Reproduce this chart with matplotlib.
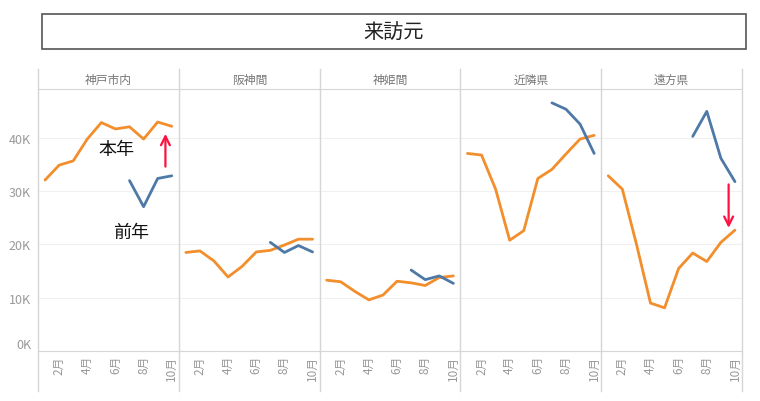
import matplotlib.pyplot as plt
from matplotlib.lines import Line2D
from matplotlib.patches import Rectangle

plt.rcParams['font.family'] = ['Noto Sans CJK JP', 'DejaVu Sans']

regions = ['神戸市内', '阪神間', '神姫間', '近隣県', '遠方県']
months = [1, 2, 3, 4, 5, 6, 7, 8, 9, 10]
prev_months = [7, 8, 9, 10]
tick_months = [2, 4, 6, 8, 10]
tick_labels = ['2月', '4月', '6月', '8月', '10月']
y_ticks = [0, 10000, 20000, 30000, 40000]
y_labels = ['0K', '10K', '20K', '30K', '40K']

# 本年 (orange), 前年 (blue)
this_kobe = [32100, 34900, 35700, 39800, 42900, 41700, 42100, 39800, 43000, 42200]
this_hanshin = [18500, 18800, 16900, 13900, 15900, 18600, 18900, 19900, 21000, 21000]
this_shinki = [13300, 13000, 11200, 9600, 10500, 13100, 12800, 12300, 13800, 14100]
this_near = [37100, 36800, 30400, 20800, 22600, 32400, 34100, 37000, 39800, 40500]
this_far = [32900, 30400, 20100, 9000, 8100, 15500, 18400, 16800, 20400, 22700]

prev_kobe = [32000, 27100, 32400, 32900]
prev_hanshin = [20400, 18500, 19800, 18600]
prev_shinki = [15200, 13400, 14100, 12700]
prev_near = [46600, 45400, 42600, 37100]
prev_far = [40300, 45000, 36200, 31800]

this_year = [this_kobe, this_hanshin, this_shinki, this_near, this_far]
prev_year = [prev_kobe, prev_hanshin, prev_shinki, prev_near, prev_far]

orange = '#F28E2B'
blue = '#4E79A7'
red = '#FF1040'
gray_line = '#d6d6d6'


def fx(px):
    return px / 760


def fy(py):
    return 1 - py / 402


fig = plt.figure(figsize=(7.6, 4.02), dpi=100)

# title box
fig.add_artist(Rectangle((fx(42), fy(50)), fx(746) - fx(42), fy(15) - fy(50),
                         transform=fig.transFigure, facecolor='white',
                         edgecolor='#555555', lw=1.2))
fig.text(fx(394), fy(32.5), '来訪元', ha='center', va='center', fontsize=14.5, color='#222222')

left0, pw = 38, 140.8
top, bottom = 90, 352
axes = []
for i, name in enumerate(regions):
    left = left0 + i * pw
    ax = fig.add_axes([fx(left), fy(bottom), pw / 760, (bottom - top) / 402])
    ax.set_xlim(0.5, 10.5)
    ax.set_ylim(0, 49200)
    ax.set_yticks(y_ticks)
    ax.grid(axis='y', color='#f0f0f0', lw=0.8)
    ax.set_axisbelow(True)
    for s in ['left', 'right']:
        ax.spines[s].set_visible(False)
    ax.spines['top'].set_color(gray_line)
    ax.spines['bottom'].set_color(gray_line)
    ax.set_xticks(tick_months)
    ax.set_xticklabels(tick_labels, rotation=90, fontsize=8.5, color='#999999')
    ax.tick_params(axis='both', length=0)
    ax.tick_params(axis='x', pad=3)
    if i == 0:
        ax.set_yticklabels(y_labels, fontsize=9, color='#999999')
        ax.tick_params(axis='y', pad=5)
        ax.get_yticklabels()[0].set_verticalalignment('bottom')
    else:
        ax.set_yticklabels([])

    ax.plot(months, this_year[i], color=orange, lw=2.0, solid_capstyle='round')
    ax.plot(prev_months, prev_year[i], color=blue, lw=2.0, solid_capstyle='round')

    fig.text(fx(left + pw / 2), fy(80), name, ha='center', va='center',
             fontsize=8.5, color='#777777')
    axes.append(ax)

# separators
for i in range(6):
    x = fx(left0 + i * pw)
    fig.add_artist(Line2D([x, x], [fy(70), fy(392)], color=gray_line, lw=1.0))

# annotations
axes[0].text(6.1, 37900, '本年', ha='center', va='center', fontsize=13, color='#111111')
axes[0].text(7.1, 22300, '前年', ha='center', va='center', fontsize=13, color='#111111')
axes[0].annotate('', xy=(9.55, 41300), xytext=(9.55, 34100),
                 arrowprops=dict(arrowstyle='->', color=red, lw=1.6, mutation_scale=16))
axes[4].annotate('', xy=(9.55, 22600), xytext=(9.55, 31800),
                 arrowprops=dict(arrowstyle='->', color=red, lw=1.6, mutation_scale=16))

fig.savefig('out.png', dpi=100)
